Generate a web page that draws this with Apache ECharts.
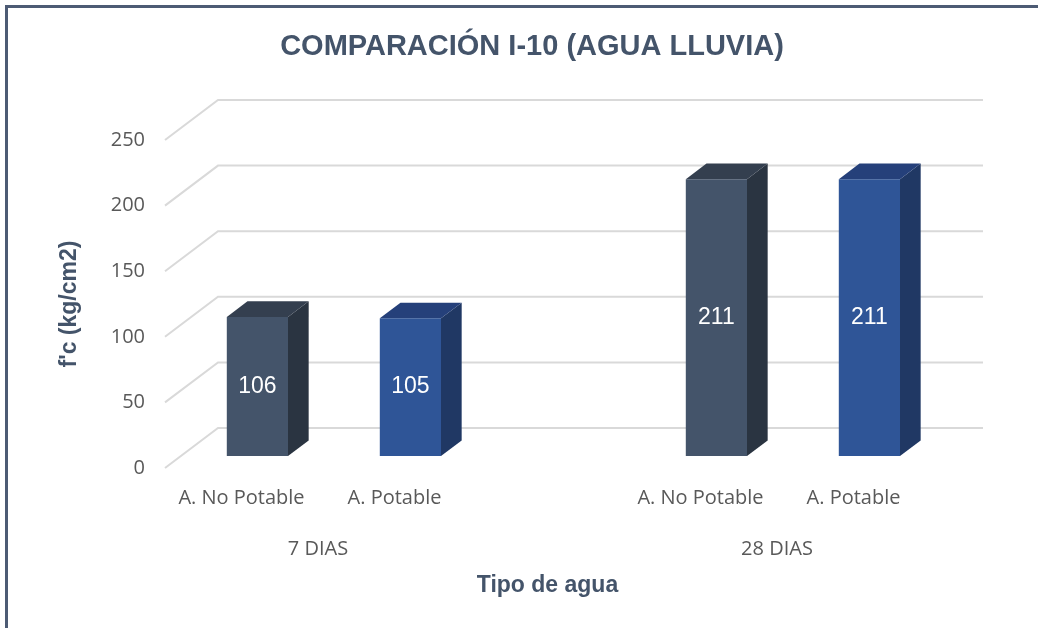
<!DOCTYPE html>
<html>
<head>
<meta charset="utf-8">
<title>Comparación I-10</title>
<script src="https://cdn.jsdelivr.net/npm/echarts@6/dist/echarts.min.js"></script>
<style>
  html, body { margin: 0; padding: 0; background: #fff; }
  #wrap { position: relative; width: 1038px; height: 628px; overflow: hidden; }
  #chart { width: 1038px; height: 628px; }
  #frame {
    position: absolute; left: 5px; top: 5px; width: 1100px; height: 700px;
    border-top: 3px solid #4d5b74; border-left: 3px solid #4d5b74;
    pointer-events: none;
  }
</style>
</head>
<body>
<div id="wrap">
  <div id="chart"></div>
  <div id="frame"></div>
</div>
<script>
// data
const categories = ['A. No Potable', 'A. Potable', '', 'A. No Potable', 'A. Potable'];
const groups = ['7 DIAS', '28 DIAS'];
const noPotable = [106, 211];
const potable = [105, 211];
const yTicks = [0, 50, 100, 150, 200, 250];

// 3d look
const depth = [53, -40];          // floor depth vector in px
const barFront = 0.3, barBack = 0.69;
const faces = [
  { front: '#44546a', side: '#2a3441', top: '#343f4f' },
  { front: '#2f5597', side: '#203864', top: '#25407a' }
];
const labelFont = '20px "Open Sans", sans-serif';

function barData(values, typeIdx) {
  return values.map((v, g) => [g * 3 + typeIdx, v]);
}

function renderGrid(params, api) {
  const cs = params.coordSys;
  const y = api.coord([0, api.value(0)])[1];
  return {
    type: 'polyline',
    shape: { points: [[cs.x, y], [cs.x + depth[0], y + depth[1]], [cs.x + cs.width + depth[0], y + depth[1]]] },
    style: { stroke: '#d9d9d9', lineWidth: 2, fill: null },
    silent: true
  };
}

function makeBarRenderer(typeIdx) {
  const col = faces[typeIdx];
  return function (params, api) {
    const top = api.coord([api.value(0), api.value(1)]);
    const base = api.coord([api.value(0), 0]);
    const w = api.size([1, 0])[0] * 0.4;
    const ox = depth[0] * barFront, oy = depth[1] * barFront;
    const dx = depth[0] * (barBack - barFront), dy = depth[1] * (barBack - barFront);
    const xl = top[0] - w / 2 + ox, xr = xl + w;
    const yt = top[1] + oy, yb = base[1] + oy;
    return {
      type: 'group',
      children: [
        { type: 'polygon', shape: { points: [[xr, yt], [xr + dx, yt + dy], [xr + dx, yb + dy], [xr, yb]] }, style: { fill: col.side } },
        { type: 'polygon', shape: { points: [[xl, yt], [xl + dx, yt + dy], [xr + dx, yt + dy], [xr, yt]] }, style: { fill: col.top } },
        { type: 'rect', shape: { x: xl, y: yt, width: w, height: yb - yt }, style: { fill: col.front } },
        { type: 'text', style: { text: String(api.value(1)), x: (xl + xr) / 2, y: (yt + yb) / 2, fill: '#fff', font: '23px "Liberation Sans", Arial, sans-serif', align: 'center', verticalAlign: 'middle' } }
      ]
    };
  };
}

function renderGroup(params, api) {
  const i = params.dataIndex;
  const a = api.coord([i * 3, 0]), b = api.coord([i * 3 + 1, 0]);
  return {
    type: 'text',
    style: { text: groups[i], x: (a[0] + b[0]) / 2, y: a[1] + 81, fill: '#595959', font: labelFont, align: 'center', verticalAlign: 'middle' }
  };
}

const chart = echarts.init(document.getElementById('chart'), null, { renderer: 'canvas' });
chart.setOption({
  animation: false,
  title: {
    text: 'COMPARACIÓN I-10 (AGUA LLUVIA)',
    left: 527, top: 27, textAlign: 'center',
    textStyle: { color: '#44546a', fontSize: 29, fontWeight: 'bold', fontFamily: '"Liberation Sans", Arial, sans-serif' }
  },
  grid: { left: 165, right: 108, top: 140, bottom: 160 },
  xAxis: {
    type: 'category',
    data: categories,
    name: 'Tipo de agua',
    nameLocation: 'middle',
    nameGap: 106,
    nameTextStyle: { color: '#44546a', fontSize: 23, fontWeight: 'bold', fontFamily: '"Liberation Sans", Arial, sans-serif' },
    axisLine: { show: false },
    axisTick: { show: false },
    axisLabel: { interval: 0, margin: 20, color: '#595959', fontSize: 20, fontFamily: '"Open Sans", sans-serif' }
  },
  yAxis: {
    type: 'value',
    min: 0, max: 250, interval: 50,
    name: "f'c (kg/cm2)",
    nameLocation: 'middle',
    nameRotate: 90,
    nameGap: 84,
    nameTextStyle: { color: '#44546a', fontSize: 23, fontWeight: 'bold', fontFamily: '"Liberation Sans", Arial, sans-serif' },
    axisLine: { show: false },
    axisTick: { show: false },
    splitLine: { show: false },
    axisLabel: { margin: 20, color: '#595959', fontSize: 20, fontFamily: '"Open Sans", sans-serif' }
  },
  series: [
    { type: 'custom', name: 'grid', data: yTicks.map(v => [v]), renderItem: renderGrid, clip: false, silent: true, z: 1 },
    { type: 'custom', name: 'A. No Potable', data: barData(noPotable, 0), renderItem: makeBarRenderer(0), clip: false, z: 2 },
    { type: 'custom', name: 'A. Potable', data: barData(potable, 1), renderItem: makeBarRenderer(1), clip: false, z: 2 },
    { type: 'custom', name: 'groups', data: groups.map((g, i) => [i]), renderItem: renderGroup, clip: false, silent: true, z: 3 }
  ]
});
</script>
</body>
</html>
